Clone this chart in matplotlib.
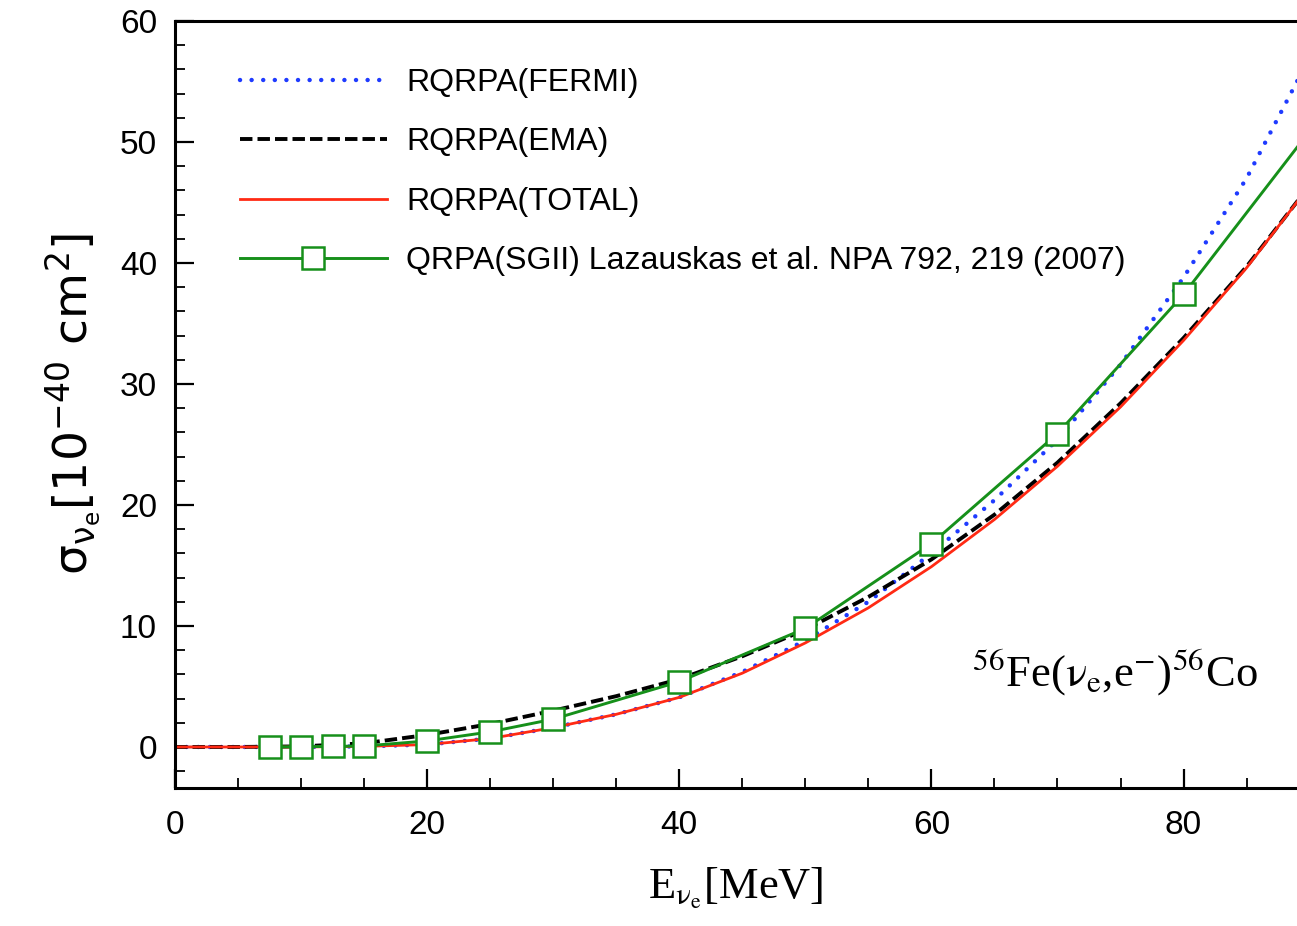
import matplotlib
matplotlib.use("Agg")
import matplotlib.pyplot as plt
from matplotlib.ticker import MultipleLocator

# energies (MeV) for the RQRPA curves
energy = [0, 5, 10, 15, 20, 25, 30, 35, 40, 45, 50, 55, 60, 65, 70, 75, 80, 85, 90]
fermi = [0, 0, 0, 0.05, 0.2, 0.7, 1.6, 2.7, 4.1, 6.2, 8.8, 12.0, 16.0, 20.4, 25.4, 31.6, 38.8, 47.0, 57.0]
ema = [0, 0, 0.05, 0.3, 1.0, 1.9, 3.0, 4.2, 5.6, 7.5, 9.7, 12.4, 15.5, 19.2, 23.5, 28.4, 33.8, 39.7, 46.4]
total = [0, 0, 0, 0.05, 0.2, 0.7, 1.6, 2.7, 4.1, 6.1, 8.6, 11.5, 14.9, 18.8, 23.2, 28.1, 33.6, 39.6, 46.4]

# QRPA(SGII) Lazauskas et al.
e_sgii = [7.5, 10, 12.5, 15, 20, 25, 30, 40, 50, 60, 70, 80, 90]
sgii = [0.0, 0.02, 0.05, 0.08, 0.5, 1.25, 2.3, 5.4, 9.8, 16.8, 25.9, 37.4, 50.9]

plt.rcParams['font.family'] = ['Liberation Sans', 'DejaVu Sans']

fig = plt.figure(figsize=(12.97, 9.26), dpi=100)
ax = fig.add_axes([175 / 1297, 1 - 788 / 926, 1 - 175 / 1297, (788 - 21) / 926])

ax.plot(energy, fermi, color='#1f3bff', lw=3.2, linestyle=(0, (0.01, 2.6)),
        dash_capstyle='round', label='RQRPA(FERMI)')
ax.plot(energy, ema, color='black', lw=2.8, linestyle=(0, (3.2, 1.3)),
        label='RQRPA(EMA)')
ax.plot(energy, total, color='#ff2a14', lw=2.0, label='RQRPA(TOTAL)')
ax.plot(e_sgii, sgii, color='#16901a', lw=2.1, marker='s', markersize=16,
        markerfacecolor='white', markeredgecolor='#16901a', markeredgewidth=1.8,
        label='QRPA(SGII) Lazauskas et al. NPA 792, 219 (2007)')

ax.set_xlim(0, 89)
ax.set_ylim(-3.39, 60)
ax.xaxis.set_major_locator(MultipleLocator(20))
ax.xaxis.set_minor_locator(MultipleLocator(5))
ax.yaxis.set_major_locator(MultipleLocator(10))
ax.yaxis.set_minor_locator(MultipleLocator(2))
ax.tick_params(which='both', direction='in', top=False, right=False, labelsize=24)
ax.tick_params(which='major', length=14, width=1.6)
ax.tick_params(which='minor', length=7, width=1.3)
ax.tick_params(axis='x', pad=16)
ax.tick_params(axis='y', pad=13)
for s in ['left', 'bottom', 'top']:
    ax.spines[s].set_linewidth(2.2)
ax.spines['right'].set_visible(False)

ax.set_xlabel(r'E$_{\mathrm{ν}_{\mathrm{e}}}$[MeV]', fontsize=32, family='Liberation Serif',
              math_fontfamily='stix', labelpad=18)
ax.set_ylabel(r'σ$_{\mathrm{ν}_{\mathrm{e}}}$[10$^{-40}$ cm$^2$]', fontsize=34,
              family='DejaVu Sans', labelpad=12)

ax.text(63.2, 5.0, r'$^{56}$Fe($\mathrm{ν}_{\mathrm{e}}$,e$^{-}$)$^{56}$Co', fontsize=32,
        family='Liberation Serif', math_fontfamily='stix')

ax.legend(loc='upper left', bbox_to_anchor=(240 / 1297, 1 - 68 / 926),
          bbox_transform=fig.transFigure, frameon=False, fontsize=23,
          handlelength=4.6, handletextpad=0.6, labelspacing=0.92,
          borderpad=0, borderaxespad=0)

fig.savefig('out.png', dpi=100)
